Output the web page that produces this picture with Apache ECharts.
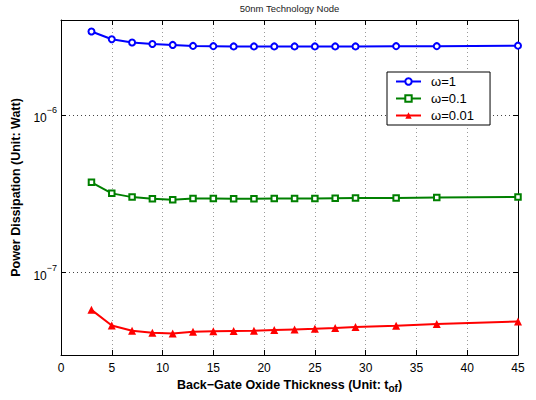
<!DOCTYPE html>
<html>
<head>
<meta charset="utf-8">
<script src="https://cdn.jsdelivr.net/npm/echarts@6/dist/echarts.min.js"></script>
<style>html,body{margin:0;padding:0;background:#fff}#c{width:536px;height:400px}</style>
</head>
<body>
<div id="c"></div>
<script>
const titleText = '50nm Technology Node';
const xName = 'Back\u2212Gate Oxide Thickness (Unit: t';
const yName = 'Power Dissipation (Unit: Watt)';
const seriesNames = ['\u03c9=1', '\u03c9=0.1', '\u03c9=0.01'];
const xValues = [3, 5, 7, 9, 11, 13, 15, 17, 19, 21, 23, 25, 27, 29, 33, 37, 45];
const omega1 = [3.38e-6, 3.02e-6, 2.88e-6, 2.82e-6, 2.78e-6, 2.74e-6, 2.73e-6, 2.72e-6, 2.72e-6, 2.72e-6, 2.72e-6, 2.72e-6, 2.72e-6, 2.72e-6, 2.73e-6, 2.73e-6, 2.75e-6];
const omega01 = [3.74e-7, 3.18e-7, 3.01e-7, 2.94e-7, 2.90e-7, 2.95e-7, 2.95e-7, 2.94e-7, 2.94e-7, 2.95e-7, 2.95e-7, 2.95e-7, 2.96e-7, 2.97e-7, 2.97e-7, 2.99e-7, 3.02e-7];
const omega001 = [5.8e-8, 4.62e-8, 4.27e-8, 4.15e-8, 4.11e-8, 4.22e-8, 4.24e-8, 4.26e-8, 4.28e-8, 4.32e-8, 4.36e-8, 4.40e-8, 4.45e-8, 4.51e-8, 4.60e-8, 4.72e-8, 4.90e-8];
const minorGrid = [4e-8, 5e-8, 6e-8, 7e-8, 8e-8, 9e-8, 2e-7, 3e-7, 4e-7, 5e-7, 6e-7, 7e-7, 8e-7, 9e-7, 2e-6, 3e-6];
const xMin = 0, xMax = 45, xStep = 5;
const yMin = 3e-8, yMax = 4e-6;

const FONT = 'Liberation Sans';
const chart = echarts.init(document.getElementById('c'), null, {renderer: 'svg'});

function pairs(ys) { return xValues.map((x, i) => [x, ys[i]]); }
function isPow10(v) { const l = Math.log10(v); return Math.abs(l - Math.round(l)) < 1e-6; }

const gridDot = {color: '#9a9a9a', width: 1, type: [1, 3]};
const majorDot = {color: '#444', width: 1, type: [1, 3]};

const baseX = {
  type: 'value', min: xMin, max: xMax, interval: xStep,
  axisLine: {show: true, onZero: false, lineStyle: {color: '#000', width: 1}},
  axisTick: {show: true, inside: true, length: 5, lineStyle: {color: '#000'}},
  splitLine: {show: false}
};
const baseY = {
  type: 'log', logBase: 10, min: yMin, max: yMax,
  axisLine: {show: true, onZero: false, lineStyle: {color: '#000', width: 1}},
  axisTick: {show: true, inside: true, length: 5, lineStyle: {color: '#000'}},
  splitLine: {show: false}
};

const option = {
  animation: false,
  backgroundColor: '#fff',
  textStyle: {fontFamily: FONT},
  graphic: [{
    type: 'text', x: 289.5, y: 8,
    style: {text: titleText, font: '9.5px "Liberation Sans"', fill: '#222', align: 'center', verticalAlign: 'middle'}
  }],
  grid: {left: 61, right: 18, top: 20, bottom: 45},
  legend: {
    orient: 'vertical', left: 387, top: 72,
    data: seriesNames,
    itemWidth: 25, itemHeight: 8, itemGap: 4,
    padding: [3, 16, 3, 8],
    borderColor: '#000', borderWidth: 1, backgroundColor: '#fff',
    textStyle: {fontFamily: FONT, fontSize: 13, lineHeight: 12, color: '#000', padding: [0, 0, 0, 5]}
  },
  xAxis: [
    Object.assign({}, baseX, {
      position: 'bottom',
      splitLine: {show: true, lineStyle: gridDot},
      axisLabel: {fontFamily: FONT, fontSize: 12, color: '#000', margin: 7},
      name: xName, nameLocation: 'middle', nameGap: 22,
      nameTextStyle: {
        fontFamily: FONT, fontSize: 12.5, fontWeight: 'bold', color: '#000',
        rich: {sub: {fontFamily: FONT, fontSize: 10, fontWeight: 'bold', padding: [6, 0, 0, 0]}}
      }
    }),
    Object.assign({}, baseX, {position: 'top', axisLabel: {show: false}})
  ],
  yAxis: [
    Object.assign({}, baseY, {
      position: 'left',
      splitLine: {show: true, lineStyle: majorDot},
      axisLabel: {
        fontFamily: FONT, margin: 4,
        formatter: function (v) {
          if (!isPow10(v)) return '';
          const e = Math.round(Math.log10(v));
          return '{b|10}{s|' + (e < 0 ? '\u2212' + (-e) : e) + '}';
        },
        rich: {
          b: {fontFamily: FONT, fontSize: 12, color: '#000', verticalAlign: 'bottom', lineHeight: 18},
          s: {fontFamily: FONT, fontSize: 9, color: '#000', verticalAlign: 'top', lineHeight: 18}
        }
      },
      name: yName, nameLocation: 'middle', nameGap: 31,
      nameTextStyle: {fontFamily: FONT, fontSize: 12.5, fontWeight: 'bold', color: '#000'}
    }),
    Object.assign({}, baseY, {position: 'right', axisLabel: {show: false}})
  ],
  series: [
    {
      name: seriesNames[0], type: 'line', data: pairs(omega1),
      symbol: 'emptyCircle', symbolSize: 6, showAllSymbol: true,
      color: '#0000ff', lineStyle: {width: 2, color: '#0000ff'},
      itemStyle: {color: '#0000ff', borderWidth: 1.6},
      markLine: {
        silent: true, symbol: 'none', label: {show: false}, animation: false,
        lineStyle: gridDot,
        data: minorGrid.map(v => ({yAxis: v}))
      },
      z: 5
    },
    {
      name: seriesNames[1], type: 'line', data: pairs(omega01),
      symbol: 'emptyRect', symbolSize: 5.5, showAllSymbol: true,
      color: '#008000', lineStyle: {width: 2, color: '#008000'},
      itemStyle: {color: '#008000', borderWidth: 1.6},
      z: 5
    },
    {
      name: seriesNames[2], type: 'line', data: pairs(omega001),
      symbol: 'triangle', symbolSize: 8, showAllSymbol: true,
      color: '#ff0000', lineStyle: {width: 2, color: '#ff0000'},
      itemStyle: {color: '#ff0000', borderWidth: 0},
      z: 5
    }
  ]
};
option.xAxis[0].name = xName + '{sub|of})';
chart.setOption(option);
</script>
</body>
</html>
